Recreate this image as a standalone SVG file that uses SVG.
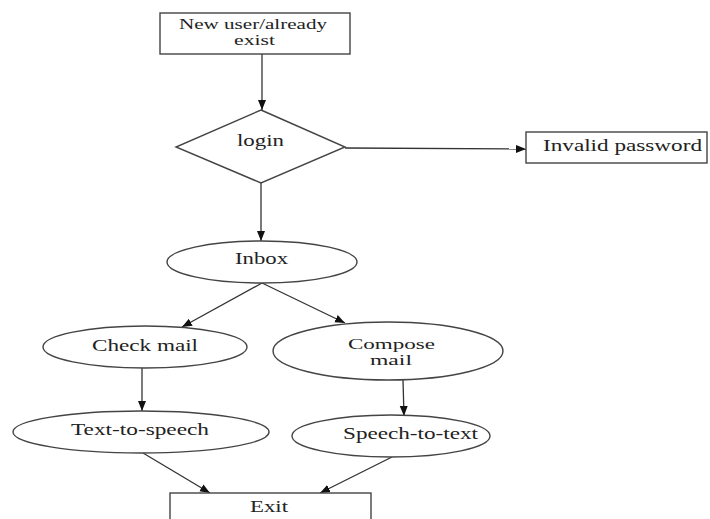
<svg xmlns="http://www.w3.org/2000/svg" width="710" height="519" viewBox="0 0 710 519">
<style>
.shape{fill:#fff;stroke:#444;stroke-width:1.4}
.lbl{font-family:"Liberation Serif","DejaVu Serif","Times New Roman",serif;font-size:16px;fill:#222}
.two{font-size:15px}
.conn line{stroke:#333;stroke-width:1.3;marker-end:url(#ah)}
</style>
<defs>
<marker id="ah" viewBox="0 0 10 10" refX="10" refY="5" markerWidth="10" markerHeight="10" markerUnits="userSpaceOnUse" orient="auto">
<path d="M0,1 L10,5 L0,9 Z" fill="#111"/>
</marker>
</defs>
<rect width="710" height="519" fill="#fff"/>
<g id="connectors" class="conn">
<line x1="262" y1="54" x2="262" y2="110"/>
<line x1="345" y1="148" x2="526" y2="149"/>
<line x1="261" y1="183" x2="261" y2="241"/>
<line x1="262" y1="283" x2="182" y2="327"/>
<line x1="262" y1="283" x2="345" y2="323"/>
<line x1="142" y1="368" x2="142" y2="411"/>
<line x1="403" y1="380" x2="404" y2="416"/>
<line x1="143" y1="453" x2="210" y2="493"/>
<line x1="392" y1="457" x2="320" y2="493"/>
</g>
<g id="start">
<rect class="shape" x="160" y="13" width="190" height="41"/>
<text class="lbl two" x="179" y="29" textLength="148" lengthAdjust="spacingAndGlyphs">New user/already</text>
<text class="lbl two" x="234" y="45" textLength="41" lengthAdjust="spacingAndGlyphs">exist</text>
</g>
<g id="login">
<polygon class="shape" points="261,110 345,147 261,183 176,147"/>
<text class="lbl" x="237" y="146" textLength="47" lengthAdjust="spacingAndGlyphs">login</text>
</g>
<g id="invalid">
<rect class="shape" x="526" y="132" width="181" height="31"/>
<text class="lbl" x="543" y="151" textLength="159" lengthAdjust="spacingAndGlyphs">Invalid password</text>
</g>
<g id="inbox">
<ellipse class="shape" cx="262" cy="262" rx="95" ry="21"/>
<text class="lbl" x="235" y="264" textLength="53" lengthAdjust="spacingAndGlyphs">Inbox</text>
</g>
<g id="check">
<ellipse class="shape" cx="145" cy="347" rx="102" ry="21"/>
<text class="lbl" x="92" y="351" textLength="106" lengthAdjust="spacingAndGlyphs">Check mail</text>
</g>
<g id="compose">
<ellipse class="shape" cx="388" cy="351" rx="115" ry="29"/>
<text class="lbl two" x="348" y="349" textLength="87" lengthAdjust="spacingAndGlyphs">Compose</text>
<text class="lbl two" x="370" y="365" textLength="42" lengthAdjust="spacingAndGlyphs">mail</text>
</g>
<g id="tts">
<ellipse class="shape" cx="141" cy="432" rx="128" ry="21"/>
<text class="lbl" x="71" y="435" textLength="138" lengthAdjust="spacingAndGlyphs">Text-to-speech</text>
</g>
<g id="stt">
<ellipse class="shape" cx="391" cy="436" rx="99" ry="21"/>
<text class="lbl" x="343" y="439" textLength="135" lengthAdjust="spacingAndGlyphs">Speech-to-text</text>
</g>
<g id="exit">
<rect class="shape" x="170" y="493" width="201" height="40"/>
<text class="lbl" x="250" y="512" textLength="38" lengthAdjust="spacingAndGlyphs">Exit</text>
</g>
</svg>
